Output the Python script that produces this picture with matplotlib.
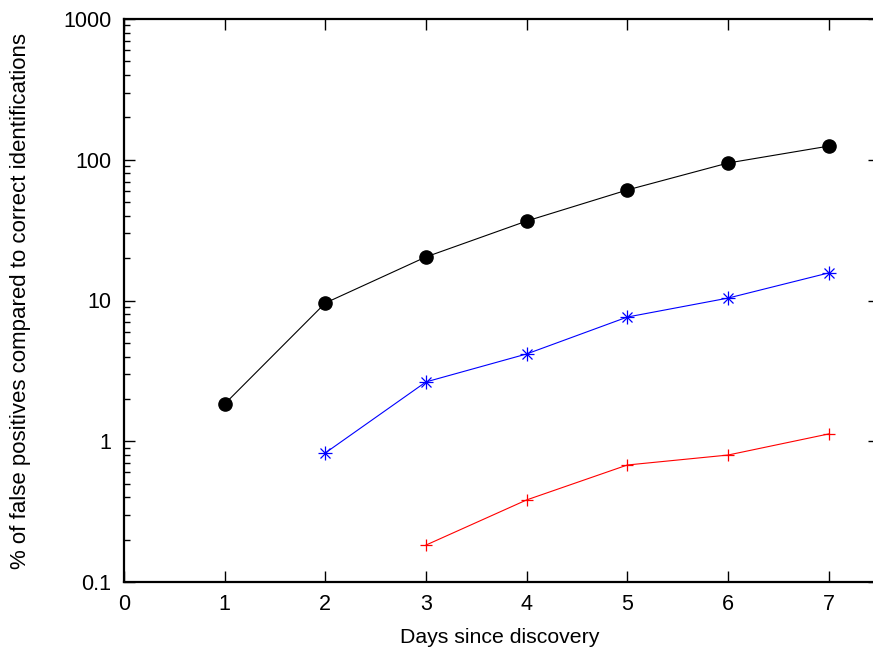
import matplotlib
matplotlib.use("Agg")
import matplotlib.pyplot as plt
from matplotlib.ticker import LogLocator, FixedLocator, NullFormatter, FuncFormatter

plt.rcParams['font.family'] = ['Liberation Sans', 'DejaVu Sans']

# Days since discovery and the false-positive share (%) per method
days_black = [1, 2, 3, 4, 5, 6, 7]
pct_black = [1.84, 9.6, 20.4, 36.7, 61, 94.8, 125]

days_blue = [2, 3, 4, 5, 6, 7]
pct_blue = [0.826, 2.64, 4.17, 7.63, 10.4, 15.7]

days_red = [3, 4, 5, 6, 7]
pct_red = [0.183, 0.383, 0.678, 0.798, 1.127]

x_ticks = [0, 1, 2, 3, 4, 5, 6, 7]
y_ticks = [0.1, 1, 10, 100, 1000]
y_tick_labels = ['0.1', '1', '10', '100', '1000']

W, H = 873, 650
fig = plt.figure(figsize=(W / 100, H / 100), dpi=100)
ax = fig.add_axes([124 / W, 68 / H, 755 / W, 563 / H])

ax.plot(days_black, pct_black, color='black', lw=0.8, marker='o',
        markersize=9.5, markerfacecolor='black', markeredgecolor='black', zorder=3)

ax.plot(days_blue, pct_blue, color='blue', lw=0.8, zorder=3)
ax.plot(days_blue, pct_blue, ls='none', marker='+', markersize=10,
        markeredgewidth=0.9, color='blue', zorder=4)
ax.plot(days_blue, pct_blue, ls='none', marker='x', markersize=7.5,
        markeredgewidth=0.9, color='blue', zorder=4)

ax.plot(days_red, pct_red, color='red', lw=0.8, marker='+', markersize=9,
        markeredgewidth=0.9, zorder=3)

ax.set_yscale('log')
ax.set_xlim(0, 7.5)
ax.set_ylim(0.1, 1000)

ax.xaxis.set_major_locator(FixedLocator(x_ticks))
ax.yaxis.set_major_locator(FixedLocator(y_ticks))
ax.yaxis.set_major_formatter(FuncFormatter(
    lambda v, p: y_tick_labels[y_ticks.index(v)] if v in y_ticks else ''))
ax.yaxis.set_minor_locator(LogLocator(base=10, subs=range(2, 10), numticks=20))
ax.yaxis.set_minor_formatter(NullFormatter())

ax.tick_params(which='both', direction='in', top=True, right=True,
               labelsize=15.5, color='black')
ax.tick_params(which='major', length=8, width=1.0)
ax.tick_params(axis='x', which='major', pad=9)
ax.tick_params(axis='y', which='major', pad=9)
ax.tick_params(which='minor', length=4, width=1.0)

for s in ax.spines.values():
    s.set_linewidth(1.6)

fig.text(500 / W, (H - 643) / H, 'Days since discovery', fontsize=15.3,
         ha='center', va='baseline')
fig.text(21 / W, (H - 301) / H,
         '% of false positives compared to correct identifications',
         fontsize=16, rotation=90, ha='center', va='center')

fig.savefig('out.png', dpi=100)
